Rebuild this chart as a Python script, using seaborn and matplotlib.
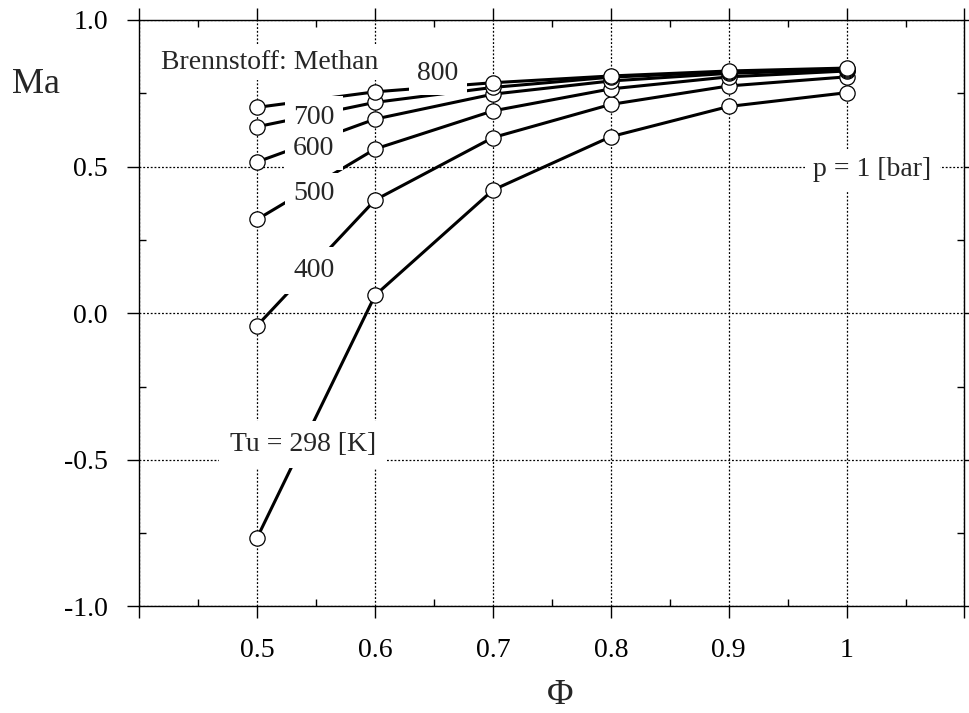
import pandas as pd
import matplotlib
matplotlib.use("Agg")
import matplotlib.pyplot as plt
from matplotlib.ticker import MultipleLocator
import seaborn as sns

# Ma over equivalence ratio, methane, p = 1 bar
phi = [0.5, 0.6, 0.7, 0.8, 0.9, 1.0]
ma_298 = [-0.765, 0.061, 0.420, 0.602, 0.705, 0.752]
ma_400 = [-0.042, 0.386, 0.599, 0.712, 0.775, 0.806]
ma_500 = [0.320, 0.560, 0.690, 0.765, 0.806, 0.826]
ma_600 = [0.516, 0.662, 0.747, 0.792, 0.818, 0.830]
ma_700 = [0.636, 0.719, 0.770, 0.805, 0.823, 0.833]
ma_800 = [0.702, 0.755, 0.786, 0.809, 0.826, 0.836]
tu_values = [298, 400, 500, 600, 700, 800]

x_ticks = [0.4, 0.5, 0.6, 0.7, 0.8, 0.9, 1.0, 1.1]
x_labels = ["", "0.5", "0.6", "0.7", "0.8", "0.9", "1", ""]
y_ticks = [-1.0, -0.5, 0.0, 0.5, 1.0]
y_labels = ["-1.0", "-0.5", "0.0", "0.5", "1.0"]

series = [ma_298, ma_400, ma_500, ma_600, ma_700, ma_800]
df = pd.concat(
    [pd.DataFrame({"phi": phi, "Ma": s, "Tu": tu}) for tu, s in zip(tu_values, series)],
    ignore_index=True,
)

sns.set_theme(style="white")
plt.rcParams["font.family"] = ["Liberation Serif", "DejaVu Serif"]

fig = plt.figure(figsize=(9.69, 7.13), dpi=100)
ax = fig.add_axes([0.1438, 0.1494, 0.8515, 0.8226])

sns.lineplot(
    data=df, x="phi", y="Ma", hue="Tu", palette=["black"] * 6,
    estimator=None, sort=False, legend=False, ax=ax,
    marker="o", markersize=11, markerfacecolor="white",
    markeredgecolor="black", markeredgewidth=0.9, linewidth=2.2, zorder=3,
)

ax.set_xlim(0.4, 1.1)
ax.set_ylim(-1.0, 1.0)
ax.set_xticks(x_ticks, labels=x_labels)
ax.set_yticks(y_ticks, labels=y_labels)
ax.xaxis.set_minor_locator(MultipleLocator(0.05))
ax.yaxis.set_minor_locator(MultipleLocator(0.25))
ax.set_xlabel("")
ax.set_ylabel("")

ax.grid(True, which="major", color="black", linestyle=(0, (1.5, 1.5)), linewidth=0.9, zorder=1)
ax.set_axisbelow(True)
for sp in ax.spines.values():
    sp.set_color("black")
    sp.set_linewidth(1.0)
    sp.set_visible(True)

ax.tick_params(which="major", direction="out", length=8.6, width=1.0, color="black",
               top=True, right=True, bottom=True, left=True,
               labelsize=20, pad=14, labelcolor="black")
ax.tick_params(which="minor", direction="in", length=5, width=1.0, color="black",
               top=True, right=True, bottom=True, left=True)

box = dict(boxstyle="square,pad=0.3", facecolor="white", edgecolor="none")
box_big = dict(boxstyle="square,pad=0.4", facecolor="white", edgecolor="none")
box_top = dict(boxstyle="square,pad=0.2", facecolor="white", edgecolor="none")
ax.text(0.511, 0.856, "Brennstoff: Methan", fontsize=20, ha="center", va="center", bbox=box_top, zorder=2.5)
ax.text(0.653, 0.816, "800", fontsize=20, ha="center", va="center", bbox=box, zorder=5)
ax.text(0.548, 0.668, "700", fontsize=20, ha="center", va="center", bbox=box, zorder=5)
ax.text(0.548, 0.560, "600", fontsize=20, ha="center", va="center", bbox=box, zorder=5)
ax.text(0.548, 0.407, "500", fontsize=20, ha="center", va="center", bbox=box, zorder=5)
ax.text(0.548, 0.145, "400", fontsize=20, ha="center", va="center", bbox=box_big, zorder=5)
ax.text(0.539, -0.447, "Tu = 298 [K]", fontsize=20, ha="center", va="center", bbox=box_big, zorder=5)
ax.text(1.022, 0.489, "p = 1 [bar]", fontsize=20, ha="center", va="center", bbox=box, zorder=5)

fig.text(0.012, 0.869, "Ma", fontsize=26, ha="left", va="baseline")
fig.text(560 / 969, 1 - 712 / 713, "Φ", fontsize=26, ha="center", va="bottom")

fig.savefig("out.png", dpi=100)
plt.close(fig)
